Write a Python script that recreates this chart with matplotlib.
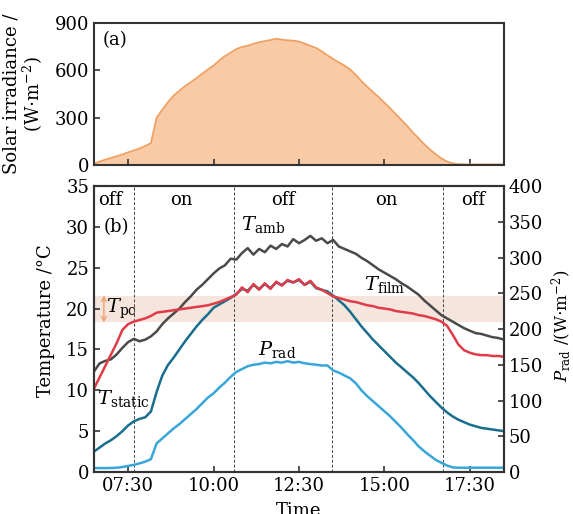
import numpy as np
import matplotlib
matplotlib.use('Agg')
import matplotlib.pyplot as plt

plt.rcParams['font.family'] = ['DejaVu Serif']
plt.rcParams['mathtext.fontset'] = 'dejavuserif'
plt.rcParams['font.size'] = 13

# tiempo en horas, cada 10 min de 06:30 a 18:30
horas = 6.5 + np.arange(73) / 6

irradiancia = [8, 22, 34, 45, 56, 67, 80, 92, 105, 120, 138, 300, 350,
               398, 440, 470, 500, 525, 550, 578, 605, 630, 662, 690, 712,
               735, 748, 756, 768, 778, 785, 792, 800, 795, 790, 788, 782,
               770, 755, 742, 720, 695, 672, 650, 630, 605, 570, 530, 495,
               462, 430, 395, 360, 322, 285, 248, 205, 170, 132, 98, 68,
               42, 22, 10, 5, 4, 4, 4, 4, 4, 4, 4, 4]

T_amb = [12.3, 13.3, 13.6, 13.8, 14.4, 15.2, 15.9, 16.3, 16.0, 16.2, 16.6,
         17.2, 18.1, 18.8, 19.4, 20.0, 20.8, 21.5, 22.3, 22.9, 23.6, 24.3,
         24.9, 25.3, 26.1, 26.0, 26.8, 27.4, 26.6, 27.3, 26.9, 27.7, 27.3,
         27.9, 27.6, 28.5, 28.0, 28.4, 28.9, 28.3, 28.6, 28.0, 28.4, 27.6,
         27.3, 27.0, 26.7, 26.2, 25.8, 25.3, 24.8, 24.4, 24.0, 23.6, 23.1,
         22.7, 22.2, 21.7, 21.0, 20.4, 19.8, 19.2, 18.8, 18.4, 18.0, 17.6,
         17.3, 17.0, 16.9, 16.7, 16.5, 16.4, 16.2]

T_film = [10.2, 11.6, 13.0, 14.4, 15.8, 17.4, 18.1, 18.4, 18.6, 18.8, 19.1,
          19.5, 19.6, 19.7, 19.8, 19.9, 20.0, 20.1, 20.2, 20.3, 20.4, 20.6,
          20.8, 21.1, 21.4, 21.7, 22.6, 22.0, 23.0, 22.3, 23.1, 22.4, 23.3,
          22.8, 23.5, 23.2, 23.6, 22.9, 23.4, 22.6, 22.3, 21.9, 21.5, 21.3,
          21.1, 20.9, 20.8, 20.6, 20.4, 20.3, 20.1, 20.0, 19.9, 19.7, 19.6,
          19.5, 19.4, 19.2, 19.1, 18.9, 18.7, 18.4, 17.9, 16.8, 15.6, 14.9,
          14.6, 14.4, 14.3, 14.3, 14.2, 14.2, 14.1]

T_static = [2.5, 3.0, 3.5, 3.9, 4.4, 5.0, 5.7, 6.2, 6.5, 6.7, 7.4, 9.8,
            11.8, 13.1, 14.0, 15.0, 16.0, 16.9, 17.8, 18.6, 19.3, 20.1,
            20.5, 20.9, 21.3, 21.8, 22.4, 22.2, 22.9, 22.4, 23.0, 22.5,
            23.2, 22.9, 23.4, 23.2, 23.5, 22.9, 23.3, 22.5, 22.3, 22.1,
            21.6, 21.0, 20.4, 19.6, 18.7, 17.8, 17.0, 16.2, 15.5, 14.8,
            14.1, 13.4, 12.8, 12.2, 11.6, 10.9, 10.1, 9.3, 8.6, 7.9, 7.3,
            6.8, 6.4, 6.1, 5.8, 5.6, 5.4, 5.3, 5.2, 5.1, 5.0]

P_rad = [5.5, 5.5, 5.5, 5.6, 6.0, 7.0, 8.5, 10.0, 12.0, 14.5, 18.0, 40.0,
         47.0, 54.0, 61.0, 67.0, 74.0, 81.0, 88.0, 96.0, 104.0, 110.0,
         118.0, 125.0, 133.0, 140.0, 144.0, 148.0, 150.0, 151.0, 153.0,
         152.0, 154.0, 153.0, 155.0, 153.0, 154.0, 152.0, 151.0, 150.0,
         149.0, 149.0, 142.0, 139.0, 135.0, 131.0, 124.0, 114.0, 106.0,
         99.0, 92.0, 85.0, 78.0, 70.0, 62.0, 53.0, 45.0, 36.0, 29.0, 23.0,
         17.0, 13.0, 9.0, 6.5, 6.0, 6.0, 6.0, 6.0, 6.0, 6.0, 6.0, 6.0, 6.0]

cambios = [7.67, 10.6, 13.47, 16.72]
estados = ['off', 'on', 'off', 'on', 'off']
pos_estados = [6.98, 9.05, 12.05, 15.05, 17.6]
ticks_x = [7.5, 10, 12.5, 15, 17.5]
etiquetas_x = ['07:30', '10:00', '12:30', '15:00', '17:30']
T_pc = [18.3, 21.6]

marco = '#333333'

fig = plt.figure(figsize=(5.73, 5.14), dpi=100)
ax1 = fig.add_axes([0.164, 0.679, 0.7155, 0.2763])
ax2 = fig.add_axes([0.164, 0.0817, 0.7155, 0.5564])
ax3 = ax2.twinx()

# (a) irradiancia
ax1.fill_between(horas, irradiancia, color='#f8cba6', lw=0)
ax1.plot(horas, irradiancia, color='#f0a062', lw=1.3)
ax1.set_xlim(6.5, 18.5)
ax1.set_ylim(0, 900)
ax1.set_yticks([0, 300, 600, 900])
ax1.set_xticks(ticks_x)
ax1.set_xticklabels([])
ax1.tick_params(direction='in', length=4, width=1.2, color=marco)
ax1.set_ylabel('Solar irradiance /\n(W$\\cdot$m$^{-2}$)', linespacing=1.0)
ax1.yaxis.set_label_coords(-0.12, 0.5)
ax1.text(0.02, 0.88, '(a)', transform=ax1.transAxes, va='center')

# (b) temperaturas
ax2.axhspan(T_pc[0], T_pc[1], color='#f6e5dd', lw=0, zorder=0)
for c in cambios:
    ax2.axvline(c, color='#444444', lw=0.7, ls=(0, (3, 2)), zorder=1)
ax2.plot(horas, T_amb, color='#4a4a4a', lw=1.8, zorder=3)
ax2.plot(horas, T_static, color='#186e8c', lw=1.8, zorder=3)
ax2.plot(horas, T_film, color='#e03c48', lw=1.8, zorder=4)
ax3.plot(horas, P_rad, color='#38a6da', lw=1.8)

ax2.set_xlim(6.5, 18.5)
ax2.set_ylim(0, 35)
ax2.set_yticks(range(0, 36, 5))
ax2.set_xticks(ticks_x)
ax2.set_xticklabels(etiquetas_x)
ax3.set_ylim(0, 400)
ax3.set_yticks(range(0, 401, 50))
ax2.tick_params(direction='in', length=4, width=1.2, color=marco)
ax3.tick_params(direction='in', length=4, width=1.2, color=marco)
ax2.set_ylabel('Temperature /°C')
ax2.yaxis.set_label_coords(-0.095, 0.53)
ax3.set_ylabel('$P_{\\rm rad}$ /(W$\\cdot$m$^{-2}$)', fontsize=12)
ax3.yaxis.set_label_coords(1.112, 0.51)
ax2.set_xlabel('Time', labelpad=5)

for e, p in zip(estados, pos_estados):
    ax2.text(p, 33.3, e, ha='center', va='center')
ax2.text(7.15, 30.0, '(b)', ha='center', va='center')
ax2.text(10.8, 30.3, '$T_{\\rm amb}$', fontsize=14, va='center')
ax2.text(14.4, 23.0, '$T_{\\rm film}$', fontsize=14, va='center')
ax2.text(6.85, 20.0, '$T_{\\rm pc}$', fontsize=14, va='center')
ax2.text(11.3, 15.0, '$P_{\\rm rad}$', fontsize=14, va='center')
ax2.text(6.6, 9.0, '$T_{\\rm static}$', fontsize=14, va='center')
ax2.annotate('', xy=(6.79, T_pc[1]), xytext=(6.79, T_pc[0]),
             arrowprops=dict(arrowstyle='<->', color='#f0a070', lw=1.0,
                             shrinkA=0, shrinkB=0, mutation_scale=8))

for ax in (ax1, ax2, ax3):
    for s in ax.spines.values():
        s.set_color(marco)
        s.set_linewidth(1.5)

plt.savefig('out.png', dpi=100)
